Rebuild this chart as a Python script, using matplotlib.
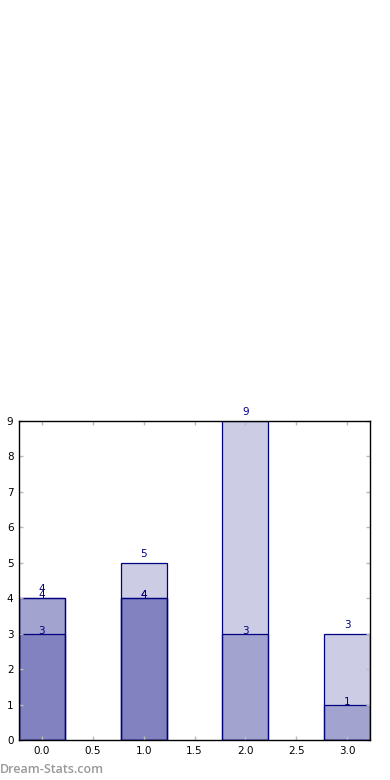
import matplotlib
matplotlib.use("Agg")
import matplotlib.pyplot as plt
import numpy as np

positions = [0, 1, 2, 3]
series_a = [4, 5, 9, 3]
series_b = [4, 4, 3, 1]
series_c = [3, 4, 0, 0]
xticks = [0.0, 0.5, 1.0, 1.5, 2.0, 2.5, 3.0]
yticks = list(range(0, 10))

fig = plt.figure(figsize=(3.9, 7.8), dpi=100)
ax = fig.add_axes([19/390, 40/780, 351/390, 319/780])

w = 0.45
for vals in (series_a, series_b, series_c):
    ax.bar(positions, vals, width=w, align='center', color='navy', alpha=0.2,
           edgecolor='none')
    ax.bar(positions, vals, width=w, align='center', facecolor='none',
           edgecolor='navy', linewidth=0.9)

for x, v in zip(positions, series_a):
    if v:
        ax.annotate(str(v), (x, v), xytext=(0, 3), textcoords='offset points',
                    ha='center', va='bottom', color='navy', fontsize=7.5)
for vals in (series_b, series_c):
    for x, v in zip(positions, vals):
        if v:
            ax.annotate(str(v), (x, v), xytext=(0, -1.5), textcoords='offset points',
                        ha='center', va='bottom', color='navy', fontsize=7.5)

ax.set_xlim(-0.225, 3.225)
ax.set_ylim(0, 9)
ax.set_xticks(xticks)
ax.set_xticklabels([f"{t:.1f}" for t in xticks])
ax.set_yticks(yticks)
ax.tick_params(direction='in', length=3, width=1, color='#bbbbbb',
               top=True, right=True, labelsize=7.5, pad=4)
for s in ax.spines.values():
    s.set_linewidth(1.0)
    s.set_color('black')

fig.text(0.0, 4/780, "Dream-Stats.com", color='#999999', fontsize=9,
         family='Open Sans', fontweight='semibold', ha='left', va='bottom')

fig.savefig("out.png", dpi=100)
